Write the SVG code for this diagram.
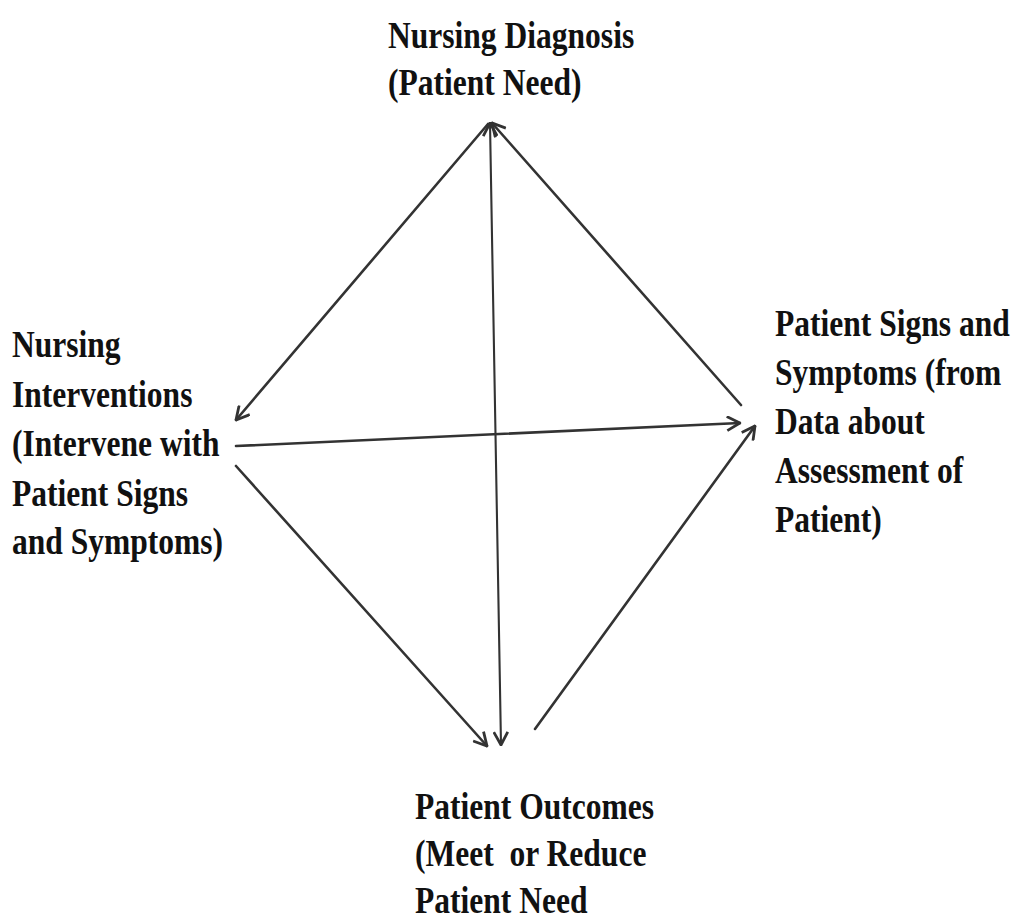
<svg xmlns="http://www.w3.org/2000/svg" width="1013" height="923" viewBox="0 0 1013 923">
  <style>
    .lbl { font-family: "Liberation Serif", "Times New Roman", serif; font-weight: bold; font-size: 38px; fill: #111; white-space: pre; }
    .edge { fill: none; stroke: #333; stroke-width: 2.6; stroke-linecap: round; }
    .thin { stroke-width: 2.1; }
  </style>
  <defs>
    <marker id="arrow" viewBox="0 0 16 16" refX="15" refY="8" markerWidth="16" markerHeight="16" markerUnits="userSpaceOnUse" orient="auto-start-reverse">
      <path d="M2,1 L15,8 L2,15" fill="none" stroke="#333" stroke-width="2.8" stroke-linejoin="miter"/>
    </marker>
  </defs>
  <rect width="1013" height="923" fill="#fff"/>

  <!-- connectors -->
  <g id="connectors">
    <line class="edge" x1="488" y1="124" x2="236" y2="420" marker-end="url(#arrow)"/>
    <line class="edge" x1="741" y1="405" x2="492" y2="123" marker-end="url(#arrow)"/>
    <line class="edge thin" x1="490" y1="123" x2="501" y2="745" marker-start="url(#arrow)" marker-end="url(#arrow)"/>
    <line class="edge" x1="236" y1="446" x2="740" y2="423" marker-end="url(#arrow)"/>
    <line class="edge" x1="236" y1="466" x2="487" y2="746" marker-end="url(#arrow)"/>
    <line class="edge" x1="535" y1="729" x2="755" y2="426" marker-end="url(#arrow)"/>
  </g>

  <!-- nodes -->
  <g id="node-diagnosis">
    <text class="lbl" transform="translate(388,48) scale(0.83,1)">Nursing Diagnosis</text>
    <text class="lbl" transform="translate(388,95) scale(0.83,1)">(Patient Need)</text>
  </g>

  <g id="node-interventions">
    <text class="lbl" transform="translate(12,357) scale(0.83,1)">Nursing</text>
    <text class="lbl" transform="translate(12,407) scale(0.83,1)">Interventions</text>
    <text class="lbl" transform="translate(12,456) scale(0.83,1)">(Intervene with</text>
    <text class="lbl" transform="translate(12,506) scale(0.83,1)">Patient Signs</text>
    <text class="lbl" transform="translate(12,554) scale(0.83,1)">and Symptoms)</text>
  </g>

  <g id="node-signs">
    <text class="lbl" transform="translate(775,336) scale(0.83,1)">Patient Signs and</text>
    <text class="lbl" transform="translate(775,385) scale(0.83,1)">Symptoms (from</text>
    <text class="lbl" transform="translate(775,434) scale(0.83,1)">Data about</text>
    <text class="lbl" transform="translate(775,483) scale(0.83,1)">Assessment of</text>
    <text class="lbl" transform="translate(775,532) scale(0.83,1)">Patient)</text>
  </g>

  <g id="node-outcomes">
    <text class="lbl" transform="translate(415,819) scale(0.83,1)">Patient Outcomes</text>
    <text class="lbl" transform="translate(415,866) scale(0.83,1)">(Meet  or Reduce</text>
    <text class="lbl" transform="translate(415,913) scale(0.83,1)">Patient Need</text>
  </g>
</svg>
